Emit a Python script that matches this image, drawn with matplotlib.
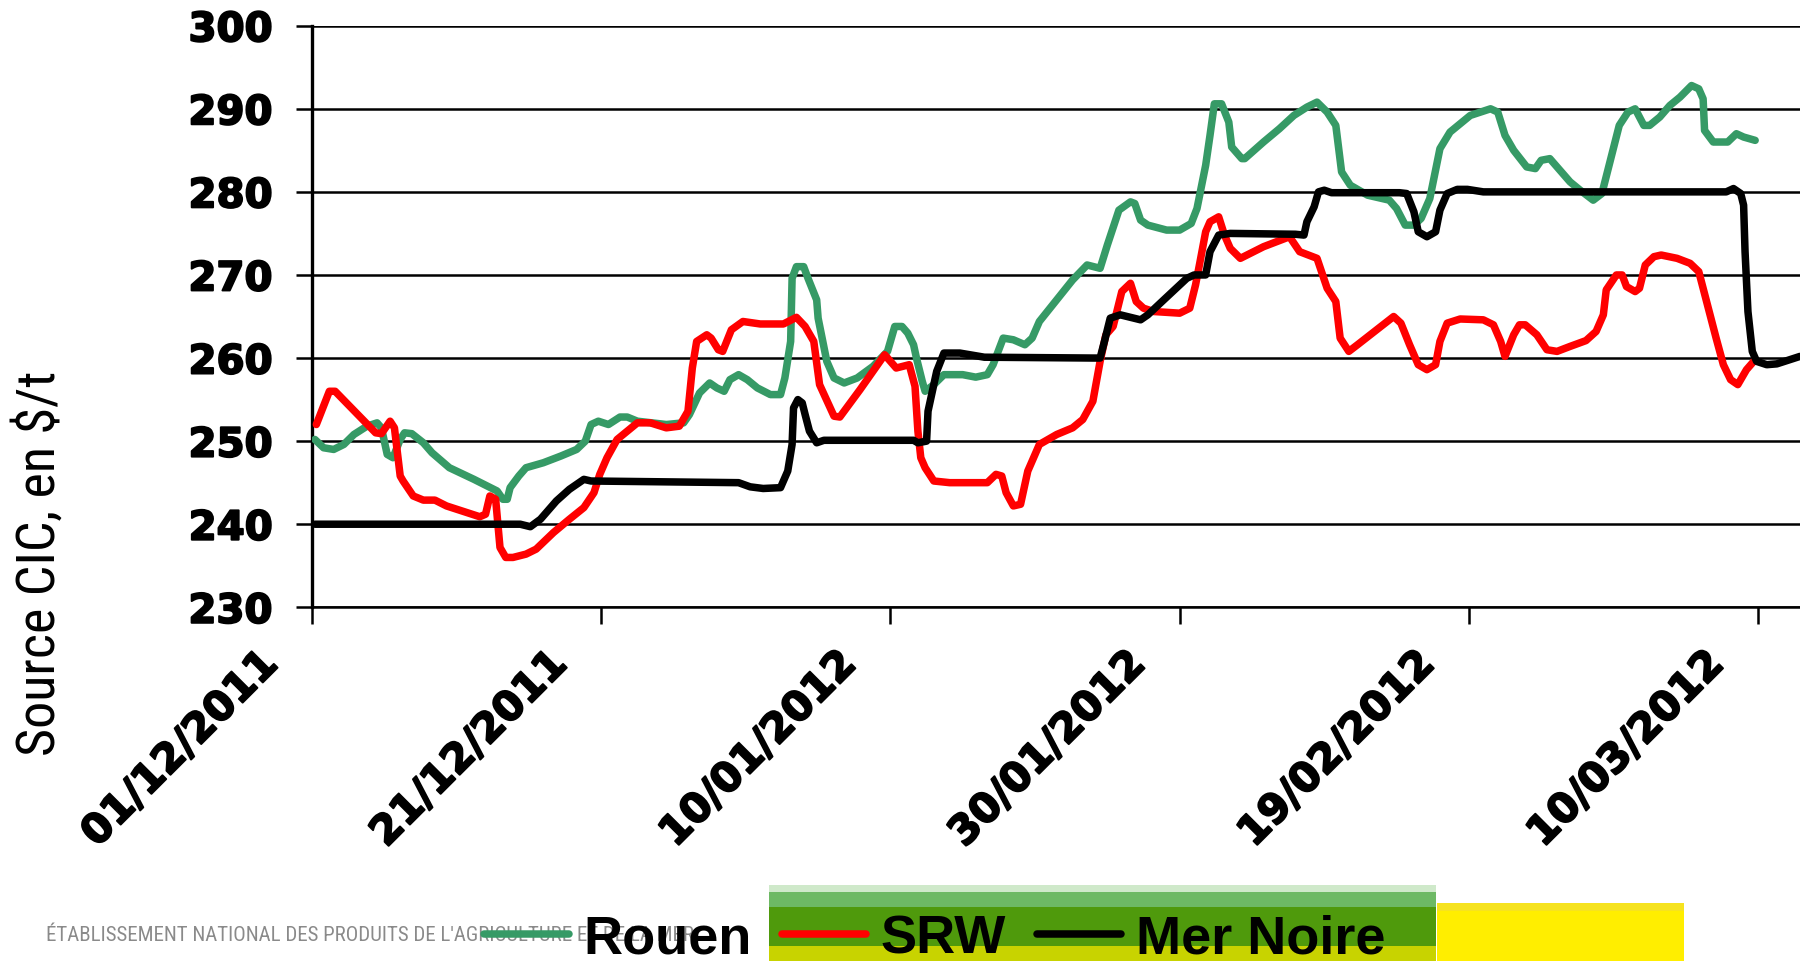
import matplotlib
matplotlib.use("Agg")
import matplotlib.pyplot as plt
import matplotlib.transforms as mtransforms
import matplotlib.patheffects as pe
from matplotlib.patches import Rectangle
from matplotlib import font_manager

# Prix du blé (Source CIC, $/t), jours comptés depuis le 01/12/2011
rouen_days = [0.2, 0.8, 1.5, 2.2, 2.9, 3.8, 4.5, 4.8, 5.2, 5.6, 6.1, 6.4, 6.9, 7.7, 8.3, 9.5,
              11.2, 12.8, 13.2, 13.5, 13.7, 14.3, 14.8, 16.0, 17.2, 18.3, 18.9, 19.3, 19.8,
              20.5, 21.3, 21.8, 22.5, 24.5, 25.7, 26.1, 26.8, 27.5, 28.0, 28.5, 28.9, 29.5,
              30.1, 30.8, 31.7, 32.4, 32.7, 33.1, 33.2, 33.5, 34.0, 34.3, 34.9, 35.0, 35.6,
              36.1, 36.8, 37.7, 38.8, 39.8, 40.3, 40.8, 41.2, 41.6, 41.8, 42.2, 42.4, 43.0,
              43.7, 45.0, 45.9, 46.7, 47.1, 47.8, 48.5, 49.3, 49.8, 50.3, 51.5, 52.6, 53.6,
              54.5, 55.0, 55.8, 56.6, 56.9, 57.3, 57.8, 59.1, 60.0, 60.8, 61.2, 61.8, 62.1,
              62.4, 62.9, 63.4, 63.6, 64.3, 64.5, 65.8, 66.9, 67.9, 68.8, 69.5, 70.2, 70.8,
              71.2, 71.8, 73.0, 74.5, 75.0, 75.6, 76.2, 76.7, 77.3, 78.0, 78.7, 80.1, 81.5,
              82.0, 82.5, 83.1, 84.0, 84.6, 85.0, 85.6, 86.3, 87.0, 87.7, 88.6, 89.2, 89.7,
              90.4, 91.0, 91.5, 92.1, 92.5, 93.2, 93.9, 94.6, 95.4, 95.9, 96.2, 96.3, 96.9,
              97.9, 98.5, 99.0, 99.8]
rouen_vals = [250.2, 249.2, 249.0, 249.6, 250.8, 251.8, 252.2, 251.6, 248.4, 248.0, 250.2,
              251.0, 250.9, 249.8, 248.6, 246.8, 245.4, 244.0, 243.0, 243.0, 244.4, 245.8,
              246.8, 247.4, 248.2, 249.0, 250.0, 252.0, 252.4, 252.0, 252.9, 252.9, 252.4,
              252.0, 252.2, 253.2, 255.8, 257.0, 256.4, 256.0, 257.4, 258.0, 257.4, 256.4,
              255.6, 255.6, 257.6, 262.0, 269.6, 271.0, 271.0, 269.6, 267.0, 264.8, 259.6,
              257.6, 257.0, 257.6, 259.0, 260.8, 263.8, 263.8, 263.0, 261.6, 260.0, 257.2,
              256.0, 256.8, 258.0, 258.0, 257.7, 258.0, 259.2, 262.4, 262.2, 261.6, 262.4,
              264.4, 267.0, 269.4, 271.2, 270.8, 273.6, 277.8, 278.8, 278.6, 276.6, 276.0,
              275.4, 275.4, 276.2, 278.0, 283.2, 286.8, 290.6, 290.6, 288.4, 285.4, 284.0,
              284.0, 286.0, 287.6, 289.2, 290.2, 290.8, 289.6, 288.0, 282.4, 280.8, 279.6,
              279.0, 278.0, 276.0, 276.0, 276.8, 279.2, 285.2, 287.2, 289.2, 290.0, 289.6,
              286.8, 285.0, 283.0, 282.8, 283.8, 284.0, 282.6, 281.2, 280.2, 279.0, 279.8,
              283.2, 288.0, 289.6, 290.0, 288.0, 288.0, 289.0, 290.4, 291.4, 292.8, 292.4,
              291.2, 287.4, 286.0, 286.0, 287.0, 286.6, 286.2]

srw_days = [0.3, 1.2, 1.6, 4.4, 4.8, 5.4, 5.7, 6.1, 6.3, 7.0, 7.7, 8.5, 9.3, 11.6, 12.0, 12.3,
            12.7, 13.0, 13.4, 13.9, 14.8, 15.5, 16.7, 17.8, 18.8, 19.5, 19.9, 20.4, 21.1,
            22.5, 23.4, 24.5, 25.4, 26.0, 26.3, 26.6, 27.3, 27.6, 28.1, 28.4, 29.0, 29.8,
            31.0, 32.6, 33.5, 34.1, 34.7, 35.1, 36.1, 36.5, 37.9, 39.6, 40.4, 41.3, 41.7,
            41.9, 42.1, 42.4, 43.0, 44.1, 46.7, 47.3, 47.7, 48.0, 48.5, 49.0, 49.5, 50.3,
            51.5, 52.6, 53.3, 54.0, 54.5, 54.9, 55.4, 56.0, 56.6, 57.0, 57.5, 58.2, 60.0,
            60.7, 61.1, 61.4, 61.8, 62.1, 62.7, 63.1, 63.5, 64.2, 65.8, 67.6, 68.3, 69.5,
            70.2, 70.8, 71.1, 71.7, 72.3, 74.8, 75.3, 75.9, 76.5, 77.1, 77.7, 78.0, 78.5,
            79.4, 81.0, 81.7, 82.2, 82.5, 83.1, 83.5, 83.9, 84.7, 85.4, 86.1, 87.0, 88.1,
            88.8, 89.3, 89.5, 90.2, 90.6, 90.9, 91.5, 91.8, 92.2, 92.8, 93.3, 94.4, 95.3,
            95.9, 96.5, 97.1, 97.6, 98.1, 98.6, 99.2, 99.7]
srw_vals = [252.0, 256.0, 256.0, 251.0, 250.9, 252.4, 251.6, 245.8, 245.2, 243.4, 242.9,
            242.9, 242.2, 240.9, 241.2, 243.4, 243.0, 237.2, 236.0, 236.0, 236.4, 237.0,
            239.0, 240.6, 242.0, 243.8, 246.0, 248.0, 250.2, 252.2, 252.2, 251.6, 251.8,
            253.6, 258.8, 262.0, 262.8, 262.4, 261.0, 260.8, 263.4, 264.4, 264.1, 264.1,
            264.9, 263.8, 262.0, 256.8, 253.0, 252.9, 256.2, 260.4, 258.8, 259.2, 256.6,
            251.2, 248.0, 246.8, 245.2, 245.0, 245.0, 246.0, 245.8, 243.8, 242.2, 242.4,
            246.4, 249.6, 250.8, 251.6, 252.6, 254.8, 259.6, 262.8, 263.8, 268.0, 269.0,
            266.8, 266.0, 265.6, 265.4, 266.0, 268.8, 271.5, 275.2, 276.4, 277.0, 274.8,
            273.2, 272.0, 273.4, 274.6, 272.8, 272.0, 268.4, 266.8, 262.4, 260.8, 261.6,
            265.0, 264.2, 261.6, 259.2, 258.6, 259.2, 262.0, 264.2, 264.7, 264.6, 264.0,
            262.0, 260.2, 262.8, 264.0, 264.0, 262.8, 261.0, 260.8, 261.4, 262.1, 263.2,
            265.2, 268.2, 270.0, 270.0, 268.6, 268.0, 268.4, 271.2, 272.2, 272.4, 272.0,
            271.4, 270.4, 266.4, 262.4, 259.2, 257.4, 256.8, 258.6, 259.6]

mer_noire_days = [0.2, 14.4, 15.1, 15.8, 16.9, 17.8, 18.8, 19.3, 29.5, 30.3, 31.2, 32.4, 32.9,
                  33.2, 33.3, 33.6, 33.9, 34.1, 34.4, 34.9, 35.4, 41.6, 41.9, 42.5, 42.6, 43.0,
                  43.2, 43.7, 44.8, 46.5, 54.0, 54.5, 54.8, 55.2, 55.9, 57.3, 57.8, 58.9, 60.5,
                  61.0, 61.8, 62.1, 62.7, 63.5, 68.0, 68.6, 68.8, 69.3, 69.6, 70.0, 70.5, 75.2,
                  75.7, 76.2, 76.5, 77.1, 77.7, 78.0, 78.5, 79.2, 79.9, 81.0, 97.8, 98.3, 98.8,
                  99.0, 99.1, 99.3, 99.6, 99.9, 100.6, 101.3, 102.9]
mer_noire_vals = [240.0, 240.0, 239.7, 240.6, 242.8, 244.2, 245.4, 245.2, 245.0, 244.5, 244.3,
                  244.4, 246.4, 249.6, 254.0, 255.0, 254.6, 253.2, 251.2, 249.8, 250.1, 250.1,
                  249.8, 250.0, 253.6, 256.8, 258.4, 260.6, 260.6, 260.1, 260.0, 260.0, 262.0,
                  264.8, 265.2, 264.6, 265.2, 267.0, 269.6, 270.0, 270.0, 272.8, 274.8, 275.0,
                  274.9, 274.8, 276.4, 278.2, 280.0, 280.2, 279.9, 279.9, 279.8, 277.6, 275.2,
                  274.6, 275.2, 277.8, 279.8, 280.3, 280.3, 280.0, 280.0, 280.4, 279.8, 278.4,
                  272.8, 265.6, 260.8, 259.6, 259.2, 259.3, 260.2]

tick_days = [0, 20, 40, 60, 80, 100]
tick_labels = ["01/12/2011", "21/12/2011", "10/01/2012", "30/01/2012", "19/02/2012", "10/03/2012"]
y_ticks = [230, 240, 250, 260, 270, 280, 290, 300]

W, H = 1800, 962
installed = {f.name for f in font_manager.fontManager.ttflist}
narrow = "DejaVu Sans"
for cand in ["Liberation Sans Narrow", "Roboto Condensed", "Open Sans Condensed",
             "DejaVu Sans Condensed", "Noto Sans Condensed"]:
    if cand in installed:
        narrow = cand
        break
arial = "Liberation Sans" if "Liberation Sans" in installed else "DejaVu Sans"
heavy = [pe.withStroke(linewidth=1.4, foreground="black")]

fig = plt.figure(figsize=(W / 100, H / 100), dpi=100)


def px_rect(x0, y0, x1, y1, color, z=0):
    # rectangle en pixels (origine en haut a gauche)
    fig.add_artist(Rectangle((x0 / W, 1 - y1 / H), (x1 - x0) / W, (y1 - y0) / H,
                             transform=fig.transFigure, color=color, lw=0, zorder=z))


# bandeau du bas (logo)
px_rect(769, 886, 1436, 893, "#cfe9ca")
px_rect(769, 893, 1436, 908, "#6db964")
px_rect(769, 908, 1436, 947, "#4f9a0c")
px_rect(769, 947, 1436, 962, "#c8d300")
px_rect(1437, 904, 1684, 912, "#f6e320")
px_rect(1437, 912, 1684, 962, "#ffee00")
fig.text(46 / W, 1 - 936 / H, "ÉTABLISSEMENT NATIONAL DES PRODUITS DE L'AGRICULTURE ET DE LA MER",
         fontsize=15, color="#8a8a8a", family=narrow, fontstretch="condensed",
         ha="left", va="center", zorder=1)

ax = fig.add_axes([312 / W, 1 - 608.3 / H, 1 - 312 / W, (608.3 - 26.7) / H])
ax.set_facecolor("none")

style = dict(lw=5.4, solid_joinstyle="round", solid_capstyle="round", zorder=3)
l1, = ax.plot(rouen_days, rouen_vals, color="#369a66", label="Rouen", **style)
l2, = ax.plot(srw_days, srw_vals, color="#ff0000", label="SRW", **style)
l3, = ax.plot(mer_noire_days, mer_noire_vals, color="black", label="Mer Noire", **style)

ax.set_xlim(0, 102.9)
ax.set_ylim(230, 300)
ax.set_yticks(y_ticks)
ax.set_yticklabels([str(v) for v in y_ticks], fontsize=29, fontweight="bold", family="DejaVu Sans")
ax.yaxis.grid(True, color="black", lw=1.8, zorder=1)
ax.set_axisbelow(True)

ax.set_xticks(tick_days)
ax.set_xticklabels(tick_labels, rotation=45, ha="right", va="top", rotation_mode="anchor",
                   fontsize=29.5, fontweight="bold", family="DejaVu Sans")
ax.tick_params(axis="y", length=11.5, width=1.8, pad=17, color="black")
ax.tick_params(axis="x", length=12, width=1.8, pad=14, color="black")
shift = mtransforms.ScaledTranslation(-54 / 100, 0, fig.dpi_scale_trans)
for lab in ax.get_xticklabels():
    lab.set_transform(lab.get_transform() + shift)
    lab.set_path_effects(heavy)
for lab in ax.get_yticklabels():
    lab.set_path_effects(heavy)

for side in ["top", "right"]:
    ax.spines[side].set_visible(False)
ax.spines["left"].set_linewidth(2.4)
ax.spines["bottom"].set_linewidth(1.8)

fig.text(40 / W, 1 - 563 / H, r"Source CIC, en \$/t", rotation=90, ha="center", va="center",
         fontsize=39 if narrow != "DejaVu Sans" else 31, family=narrow, fontstretch="condensed")

leg = fig.legend([l1, l2, l3], ["Rouen", "SRW", "Mer Noire"], loc="center left",
                 bbox_to_anchor=(484 / W, 1 - 940 / H), ncol=3, frameon=False,
                 prop={"family": arial, "weight": "bold", "size": 39},
                 handlelength=1.56, handletextpad=0.27, columnspacing=0.56,
                 borderpad=0, borderaxespad=0)
leg.set_zorder(5)

fig.savefig("out.png", dpi=100)
